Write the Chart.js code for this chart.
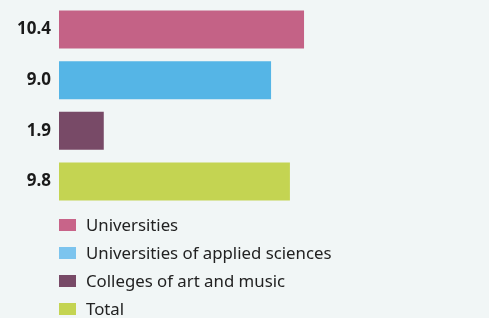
<!DOCTYPE html>
<html>
<head>
<meta charset="utf-8">
<script src="https://cdn.jsdelivr.net/npm/chart.js@4/dist/chart.umd.min.js"></script>
<style>
  html, body { margin: 0; padding: 0; background: #f1f6f6; }
  #wrap { position: relative; width: 489px; height: 318px; overflow: hidden; }
  #c { position: absolute; left: 0; top: -14.5px; }
  #legend { position: absolute; z-index: 2; left: 59px; top: 211px; margin: 0; padding: 0; list-style: none;
    font-family: "Noto Sans", sans-serif; font-size: 16.8px; color: #222; }
  #legend li { height: 27.9px; display: flex; align-items: center; }
  #legend span.box { display: inline-block; width: 17px; height: 12px; margin-right: 10px; }
</style>
</head>
<body>
<div id="wrap">
  <canvas id="c" width="489" height="239"></canvas>
  <ul id="legend"></ul>
</div>
<script>
// categories and values
const categories = ['Universities', 'Universities of applied sciences', 'Colleges of art and music', 'Total'];
const values = [10.4, 9.0, 1.9, 9.8];
const barColors = ['#c46286', '#55b5e6', '#784a67', '#c4d452'];
const legendColors = ['#c86489', '#7cc4ee', '#784a67', '#c4d452'];

// legend as html list
const legendEl = document.getElementById('legend');
categories.forEach((name, i) => {
    const li = document.createElement('li');
    li.innerHTML = `<span class="box" style="background:${legendColors[i]}"></span>${name}`;
    legendEl.appendChild(li);
});

new Chart(document.getElementById('c').getContext('2d'), {
    type: 'bar',
    data: {
        labels: values.map(v => v.toFixed(1)),
        datasets: [{
            data: values,
            backgroundColor: barColors,
            categoryPercentage: 1,
            barPercentage: 0.75
        }]
    },
    options: {
        indexAxis: 'y',
        responsive: false,
        animation: false,
        layout: { padding: { top: 4, bottom: 4, right: 0, left: 0 } },
        scales: {
            x: { display: false, min: 0, max: 18.25 },
            y: {
                grid: { display: false, drawTicks: false },
                border: { display: false },
                afterFit: axis => { axis.width = 59; },
                ticks: {
                    color: '#1a1a1a',
                    padding: 8,
                    font: { family: 'Noto Sans', size: 17, weight: 'bold' }
                }
            }
        },
        plugins: { legend: { display: false }, tooltip: { enabled: false } }
    }
});
</script>
</body>
</html>
